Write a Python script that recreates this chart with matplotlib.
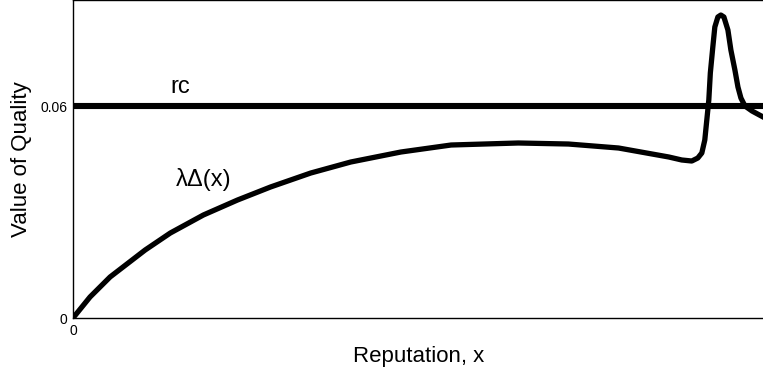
import matplotlib
matplotlib.use('Agg')
import numpy as np
from matplotlib import pyplot as plt

plt.rcParams['font.family'] = ['Liberation Sans', 'DejaVu Sans']

# reputation and value of quality
rep = [0.0, 0.0246, 0.0536, 0.1043, 0.1406, 0.1884, 0.2377, 0.2855, 0.3435,
       0.4014, 0.4739, 0.5464, 0.6435, 0.7159, 0.7884, 0.8609, 0.8797,
       0.8942, 0.9029, 0.9087, 0.9130, 0.9159, 0.9188, 0.9210, 0.9246,
       0.9275, 0.9319, 0.9362, 0.9406, 0.9464, 0.9507, 0.9565, 0.9609,
       0.9652, 0.9710, 0.9812, 1.0]
lam_delta = [0.0, 0.00595, 0.01161, 0.01925, 0.02405, 0.02915, 0.03339,
             0.03708, 0.04103, 0.04415, 0.04698, 0.04896, 0.04953, 0.04924,
             0.04811, 0.04557, 0.04472, 0.04443, 0.04528, 0.04670, 0.05038,
             0.05603, 0.06170, 0.06934, 0.07670, 0.08236, 0.08519, 0.08575,
             0.08519, 0.08151, 0.07585, 0.07019, 0.06538, 0.06226, 0.06000,
             0.05859, 0.05660]
rc = 0.06

fig = plt.figure(figsize=(7.63, 3.72), dpi=100)
ax = fig.add_axes([73 / 763, 54 / 372, 692 / 763, 318 / 372])

ax.axhline(rc, color='black', lw=4.4)
ax.plot(rep, lam_delta, color='black', lw=3.8, solid_joinstyle='round', solid_capstyle='round')

ax.set_xlim(0, 1)
ax.set_ylim(0, 0.0900)
ax.set_xticks([0])
ax.set_xticklabels(['0'])
ax.set_yticks([0, rc])
ax.set_yticklabels(['0', '0.06'])
ax.tick_params(length=0, labelsize=10, pad=4)

ax.text(0.1406, 0.0637, 'rc', fontsize=17)
ax.text(0.148, 0.0374, 'λΔ(x)', fontsize=17)

ax.set_xlabel('Reputation, x', fontsize=16)
ax.set_ylabel('Value of Quality', fontsize=16)
ax.xaxis.set_label_coords(0.5, -0.088)
ax.yaxis.set_label_coords(-0.059, 0.5)

for s in ax.spines.values():
    s.set_linewidth(1)

fig.savefig('out.png', dpi=100)
